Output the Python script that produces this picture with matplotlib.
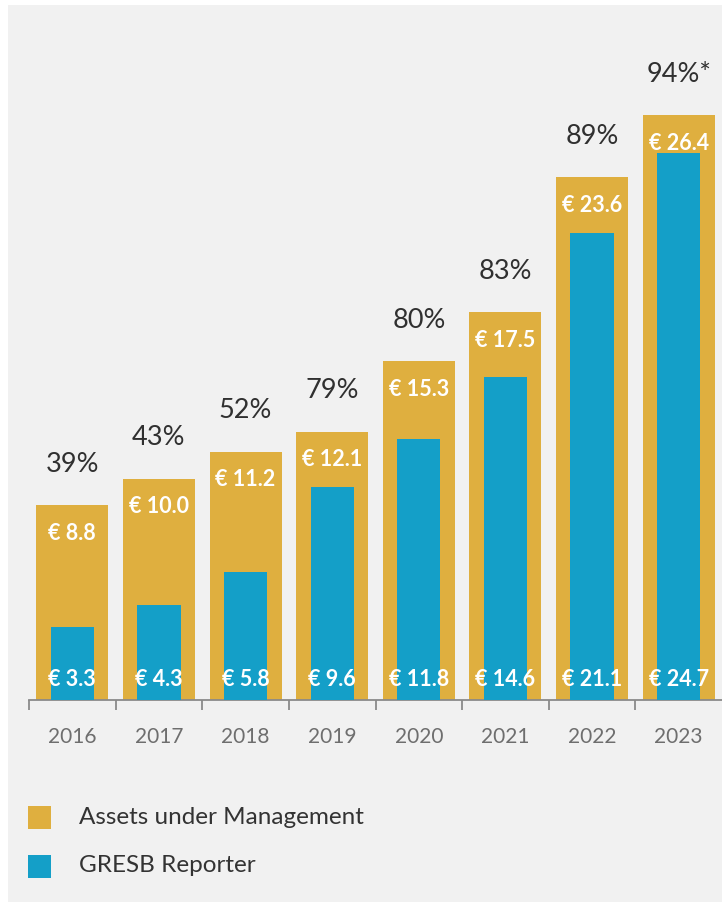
import matplotlib.pyplot as plt
from matplotlib.patches import Rectangle

years = ['2016', '2017', '2018', '2019', '2020', '2021', '2022', '2023']
aum = [8.8, 10.0, 11.2, 12.1, 15.3, 17.5, 23.6, 26.4]
gresb = [3.3, 4.3, 5.8, 9.6, 11.8, 14.6, 21.1, 24.7]
share = ['39%', '43%', '52%', '79%', '80%', '83%', '89%', '94%*']

gold = '#DFAF3F'
blue = '#149FC8'
W, H = 722, 902

plt.rcParams['font.family'] = ['Lato', 'DejaVu Sans']

fig = plt.figure(figsize=(W / 100, H / 100), dpi=100, facecolor='white')
# grey panel behind everything
fig.patches.append(Rectangle((8 / W, 0), 1, 1 - 5 / H, transform=fig.transFigure,
                             facecolor='#F1F1F1', edgecolor='none', zorder=-5))

ax = fig.add_axes([29 / W, 202 / H, 693 / W, 700 / H])
ax.patch.set_visible(False)
x = range(len(years))
ax.bar(x, aum, width=0.83, color=gold, zorder=2)
ax.bar(x, gresb, width=0.50, color=blue, zorder=3)
ax.set_xlim(-0.5, 7.5)
ax.set_ylim(0, 700 / 22.15)

for i in x:
    ax.annotate(share[i], (i, aum[i]), xytext=(0, 41), textcoords='offset pixels',
                ha='center', va='center', fontsize=19.5, color='#303030')
    ax.annotate('€ %.1f' % aum[i], (i, aum[i]), xytext=(0, -28), textcoords='offset pixels',
                ha='center', va='center', fontsize=15.5, color='white', fontweight='bold')
    ax.annotate('€ %.1f' % gresb[i], (i, 0), xytext=(0, 21), textcoords='offset pixels',
                ha='center', va='center', fontsize=15.5, color='white', fontweight='bold', zorder=4)
    ax.annotate(years[i], (i, 0), xytext=(0, -37), textcoords='offset pixels',
                ha='center', va='center', fontsize=15, color='#6E6E6E')

for s in ['top', 'right', 'left']:
    ax.spines[s].set_visible(False)
ax.spines['bottom'].set_color('#8A8A8A')
ax.spines['bottom'].set_linewidth(1.3)
ax.set_yticks([])
ax.set_xticks([i - 0.5 for i in range(len(years))])
ax.set_xticklabels([])
ax.tick_params(axis='x', length=7, width=1.3, color='#8A8A8A', direction='out')

# legend
for yc, col, lab in [(817, gold, 'Assets under Management'), (866, blue, 'GRESB Reporter')]:
    fig.patches.append(Rectangle((28 / W, 1 - (yc + 12) / H), 23 / W, 23 / H,
                                 transform=fig.transFigure, facecolor=col, edgecolor='none'))
    fig.text(79 / W, 1 - yc / H, lab, ha='left', va='center', fontsize=17.5, color='#333333')

fig.savefig('out.png', dpi=100, facecolor='white')
